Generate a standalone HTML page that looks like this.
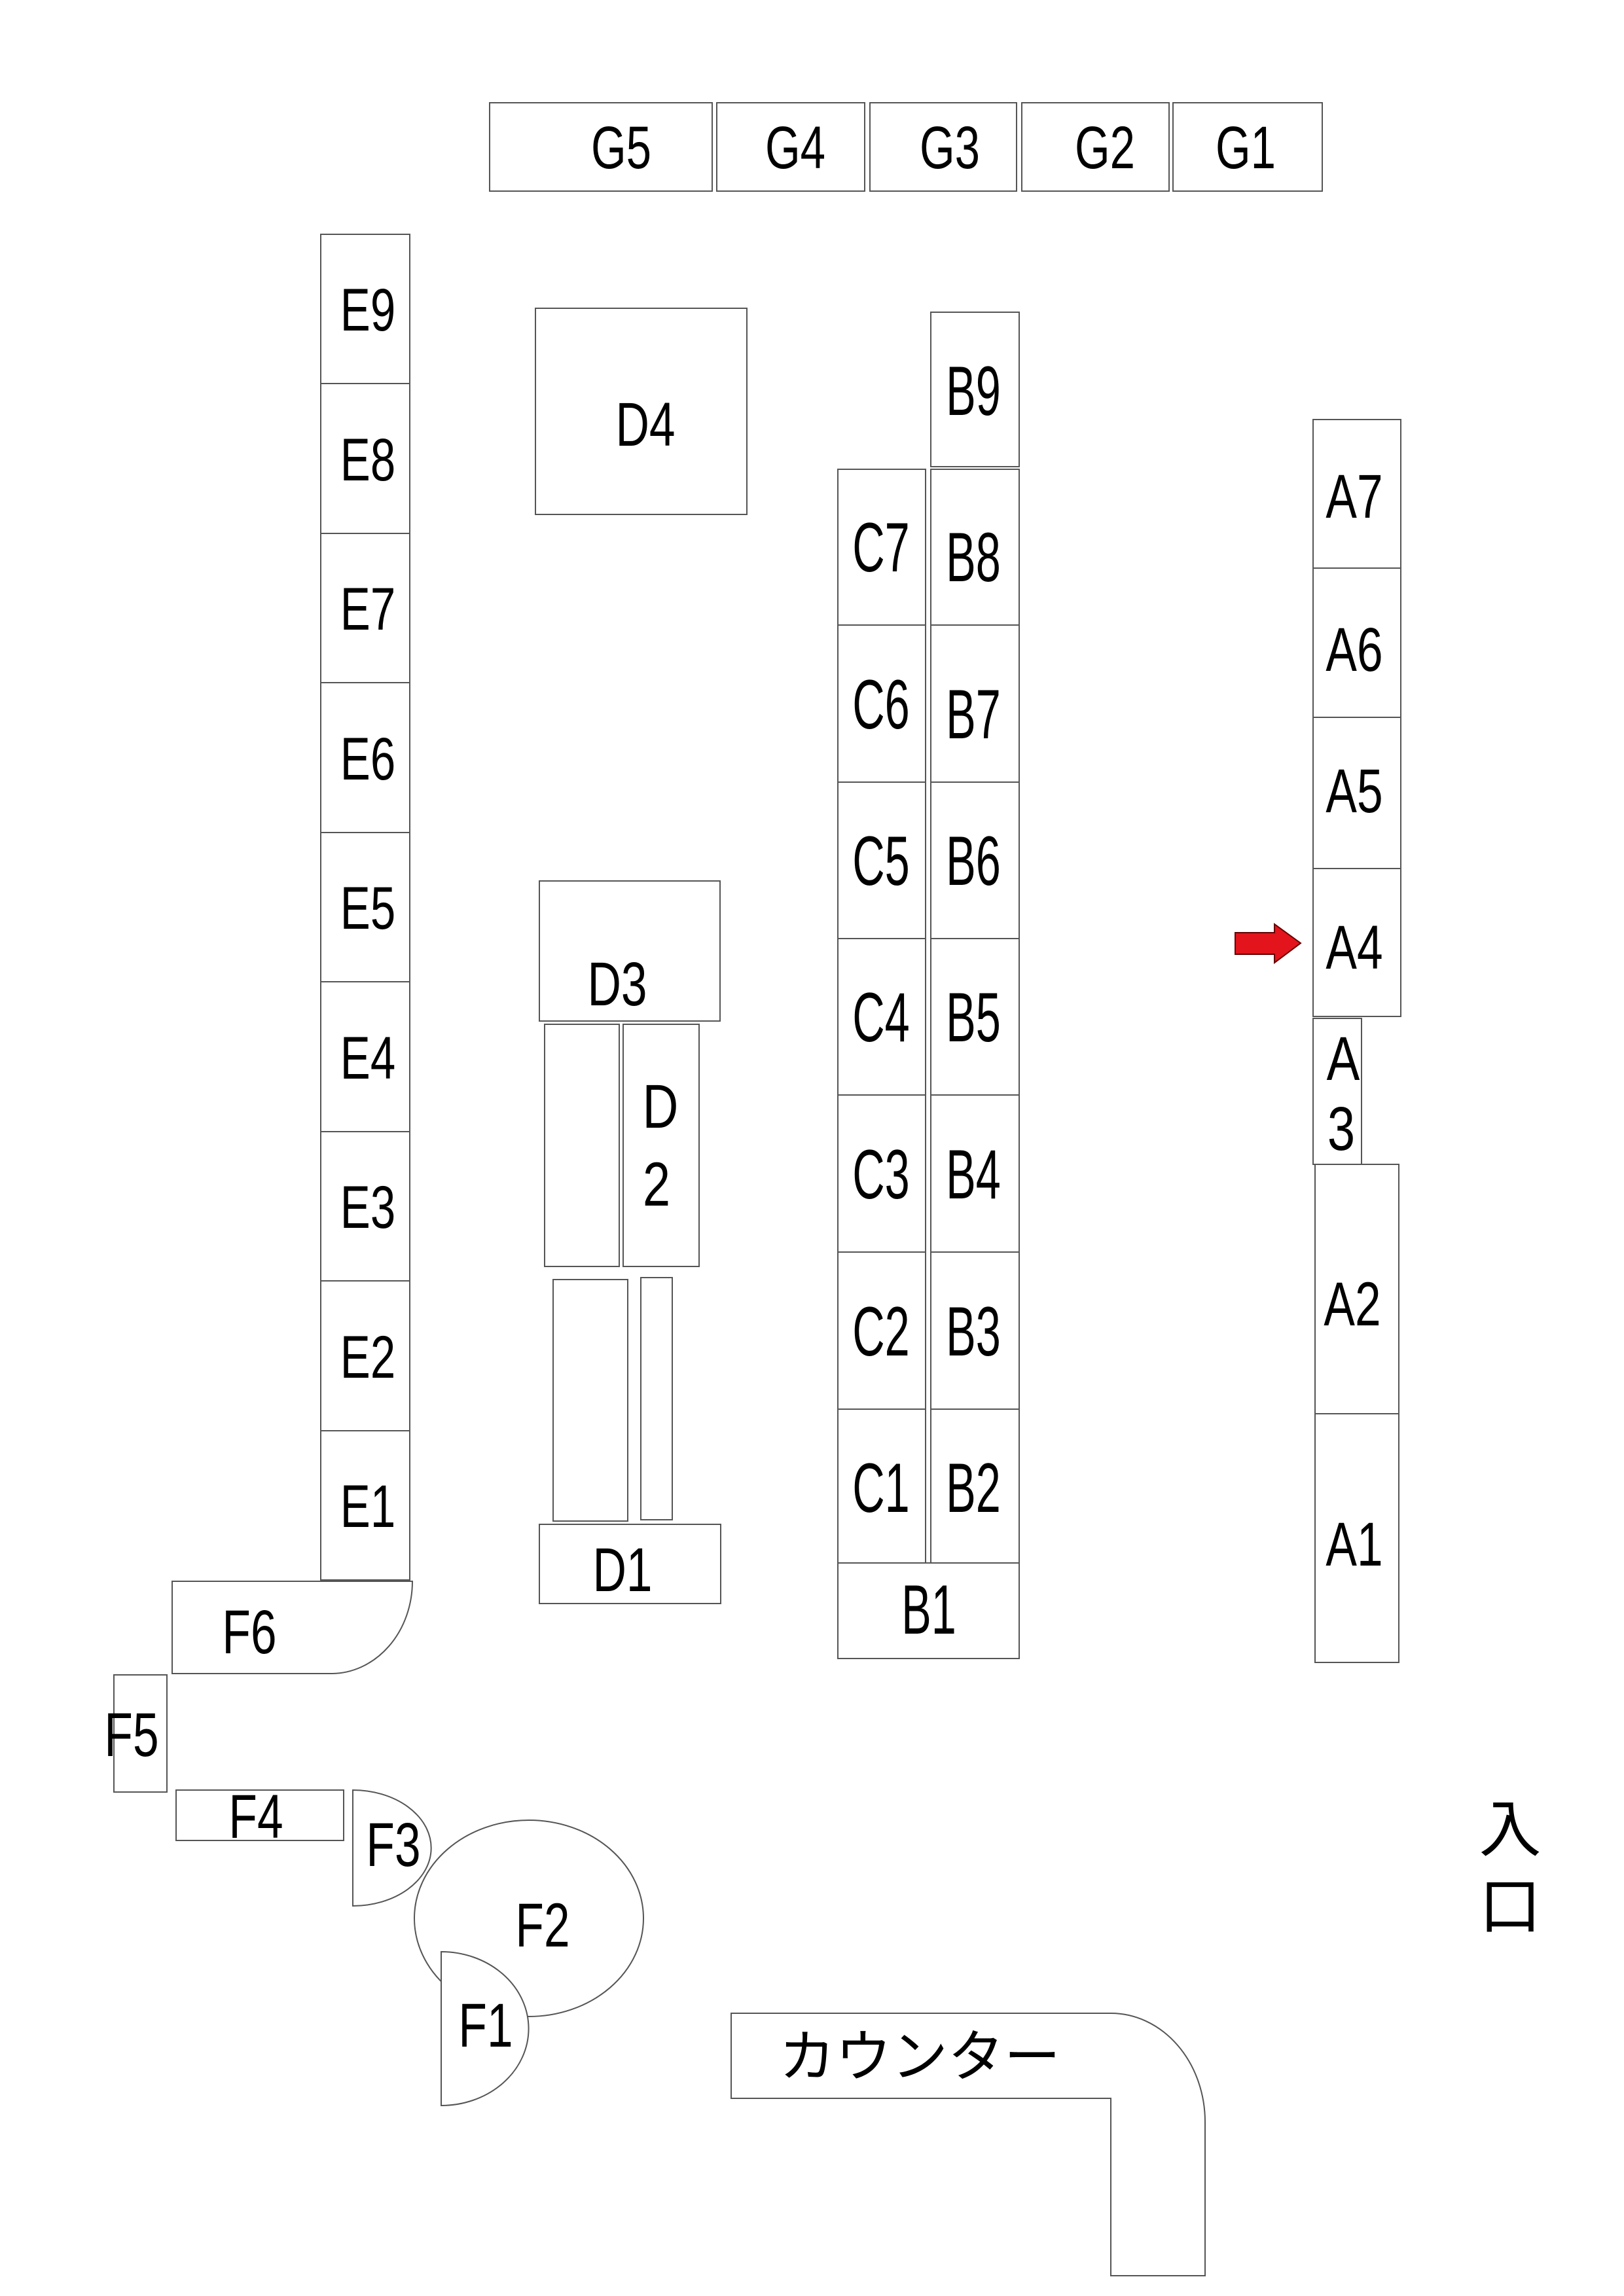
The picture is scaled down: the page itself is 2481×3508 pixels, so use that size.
<!DOCTYPE html>
<html><head><meta charset="utf-8"><style>
html,body{margin:0;padding:0;background:#fff}
svg{display:block}
text{font-family:"Liberation Sans","Noto Sans CJK JP",sans-serif;fill:#000}
</style></head><body>
<svg width="2481" height="3508" viewBox="0 0 2481 3508" xmlns="http://www.w3.org/2000/svg">
<g fill="none" stroke="#555" stroke-width="2">
<!-- G -->
<rect x="748" y="157" width="340" height="135"/>
<rect x="1095" y="157" width="226" height="135"/>
<rect x="1329" y="157" width="224" height="135"/>
<rect x="1561" y="157" width="225" height="135"/>
<rect x="1792" y="157" width="228" height="135"/>
<!-- E -->
<rect x="490" y="358" width="136" height="228"/>
<rect x="490" y="586" width="136" height="229"/>
<rect x="490" y="815" width="136" height="228"/>
<rect x="490" y="1043" width="136" height="229"/>
<rect x="490" y="1272" width="136" height="228"/>
<rect x="490" y="1500" width="136" height="229"/>
<rect x="490" y="1729" width="136" height="228"/>
<rect x="490" y="1957" width="136" height="229"/>
<rect x="490" y="2186" width="136" height="228"/>
<!-- D -->
<rect x="818" y="471" width="323" height="315"/>
<rect x="824" y="1346" width="276" height="214"/>
<rect x="832" y="1565" width="114" height="370"/>
<rect x="952" y="1565" width="116" height="370"/>
<rect x="845" y="1955" width="114" height="369"/>
<rect x="979" y="1952" width="48" height="370"/>
<rect x="824" y="2329" width="277" height="121"/>
<!-- C/B -->
<rect x="1422" y="477" width="135" height="236"/>
<rect x="1280" y="717" width="134" height="238"/><rect x="1422" y="717" width="135" height="238"/>
<rect x="1280" y="955" width="134" height="240"/><rect x="1422" y="955" width="135" height="240"/>
<rect x="1280" y="1195" width="134" height="239"/><rect x="1422" y="1195" width="135" height="239"/>
<rect x="1280" y="1434" width="134" height="239"/><rect x="1422" y="1434" width="135" height="239"/>
<rect x="1280" y="1673" width="134" height="240"/><rect x="1422" y="1673" width="135" height="240"/>
<rect x="1280" y="1913" width="134" height="240"/><rect x="1422" y="1913" width="135" height="240"/>
<rect x="1280" y="2153" width="134" height="235"/><rect x="1422" y="2153" width="135" height="235"/>
<rect x="1280" y="2388" width="277" height="146"/>
<!-- A -->
<rect x="2006" y="641" width="134" height="227"/>
<rect x="2006" y="868" width="134" height="228"/>
<rect x="2006" y="1096" width="134" height="231"/>
<rect x="2006" y="1327" width="134" height="226"/>
<rect x="2006" y="1556" width="74" height="223"/>
<rect x="2009" y="1779" width="128" height="381"/>
<rect x="2009" y="2160" width="128" height="380"/>
<!-- F -->
<path d="M263 2416 L630 2416 A124 141 0 0 1 506 2557 L263 2557 Z"/>
<rect x="174" y="2559" width="81" height="179"/>
<rect x="269" y="2735" width="256" height="77"/>
<path d="M539 2735 A119 88 0 0 1 539 2912 Z"/>
<ellipse cx="808" cy="2931" rx="175" ry="150" fill="#fff"/>
<path d="M674 2982 A133 117 0 0 1 674 3217 Z" fill="#fff"/>
<!-- counter -->
<path d="M1117 3076 L1697 3076 A144 166 0 0 1 1841 3242 L1841 3477 L1697 3477 L1697 3206 L1117 3206 Z"/>
</g>
<!-- arrow -->
<path d="M1887 1425 L1947 1425 L1947 1412 L1987 1441 L1947 1471 L1947 1458 L1887 1458 Z" fill="#e3141b" stroke="#600" stroke-width="2"/>
<g font-size="92">
<text transform="translate(949,257) scale(0.75,1)" text-anchor="middle">G5</text>
<text transform="translate(1215,257) scale(0.75,1)" text-anchor="middle">G4</text>
<text transform="translate(1451,257) scale(0.75,1)" text-anchor="middle">G3</text>
<text transform="translate(1688,257) scale(0.75,1)" text-anchor="middle">G2</text>
<text transform="translate(1903,257) scale(0.75,1)" text-anchor="middle">G1</text>
<text transform="translate(562,505) scale(0.75,1)" text-anchor="middle">E9</text>
<text transform="translate(562,734) scale(0.75,1)" text-anchor="middle">E8</text>
<text transform="translate(562,962) scale(0.75,1)" text-anchor="middle">E7</text>
<text transform="translate(562,1191) scale(0.75,1)" text-anchor="middle">E6</text>
<text transform="translate(562,1419) scale(0.75,1)" text-anchor="middle">E5</text>
<text transform="translate(562,1648) scale(0.75,1)" text-anchor="middle">E4</text>
<text transform="translate(562,1876) scale(0.75,1)" text-anchor="middle">E3</text>
<text transform="translate(562,2105) scale(0.75,1)" text-anchor="middle">E2</text>
<text transform="translate(562,2333) scale(0.75,1)" text-anchor="middle">E1</text>
</g>
<g font-size="95">
<text transform="translate(986,681) scale(0.75,1)" text-anchor="middle">D4</text>
<text transform="translate(943,1536) scale(0.75,1)" text-anchor="middle">D3</text>
<text transform="translate(1009,1723) scale(0.8,1)" text-anchor="middle">D</text>
<text transform="translate(1003,1842) scale(0.8,1)" text-anchor="middle">2</text>
<text transform="translate(951,2431) scale(0.75,1)" text-anchor="middle">D1</text>
<text transform="translate(2069,791) scale(0.75,1)" text-anchor="middle">A7</text>
<text transform="translate(2069,1025) scale(0.75,1)" text-anchor="middle">A6</text>
<text transform="translate(2069,1241) scale(0.75,1)" text-anchor="middle">A5</text>
<text transform="translate(2069,1480) scale(0.75,1)" text-anchor="middle">A4</text>
<text transform="translate(2052,1650) scale(0.8,1)" text-anchor="middle">A</text>
<text transform="translate(2049,1757) scale(0.8,1)" text-anchor="middle">3</text>
<text transform="translate(2066,2025) scale(0.75,1)" text-anchor="middle">A2</text>
<text transform="translate(2069,2392) scale(0.75,1)" text-anchor="middle">A1</text>
<text transform="translate(381,2526) scale(0.75,1)" text-anchor="middle">F6</text>
<text transform="translate(201,2683) scale(0.75,1)" text-anchor="middle">F5</text>
<text transform="translate(391,2808) scale(0.75,1)" text-anchor="middle">F4</text>
<text transform="translate(601,2851) scale(0.75,1)" text-anchor="middle">F3</text>
<text transform="translate(829,2974) scale(0.75,1)" text-anchor="middle">F2</text>
<text transform="translate(742,3127) scale(0.75,1)" text-anchor="middle">F1</text>
</g>
<g font-size="107">
<text transform="translate(1487,634) scale(0.64,1)" text-anchor="middle">B9</text>
<text transform="translate(1346,873) scale(0.64,1)" text-anchor="middle">C7</text>
<text transform="translate(1487,888) scale(0.64,1)" text-anchor="middle">B8</text>
<text transform="translate(1346,1113) scale(0.64,1)" text-anchor="middle">C6</text>
<text transform="translate(1487,1128) scale(0.64,1)" text-anchor="middle">B7</text>
<text transform="translate(1346,1352) scale(0.64,1)" text-anchor="middle">C5</text>
<text transform="translate(1487,1352) scale(0.64,1)" text-anchor="middle">B6</text>
<text transform="translate(1346,1591) scale(0.64,1)" text-anchor="middle">C4</text>
<text transform="translate(1487,1591) scale(0.64,1)" text-anchor="middle">B5</text>
<text transform="translate(1346,1831) scale(0.64,1)" text-anchor="middle">C3</text>
<text transform="translate(1487,1831) scale(0.64,1)" text-anchor="middle">B4</text>
<text transform="translate(1346,2071) scale(0.64,1)" text-anchor="middle">C2</text>
<text transform="translate(1487,2071) scale(0.64,1)" text-anchor="middle">B3</text>
<text transform="translate(1346,2310) scale(0.64,1)" text-anchor="middle">C1</text>
<text transform="translate(1487,2310) scale(0.64,1)" text-anchor="middle">B2</text>
<text transform="translate(1419,2496) scale(0.64,1)" text-anchor="middle">B1</text>
</g>
<text x="1190" y="3172" font-size="86">カウンター</text>
<text x="2307" y="2828" font-size="95" text-anchor="middle">入</text>
<text x="2307" y="2946" font-size="95" text-anchor="middle">口</text>
</svg>
</body></html>
